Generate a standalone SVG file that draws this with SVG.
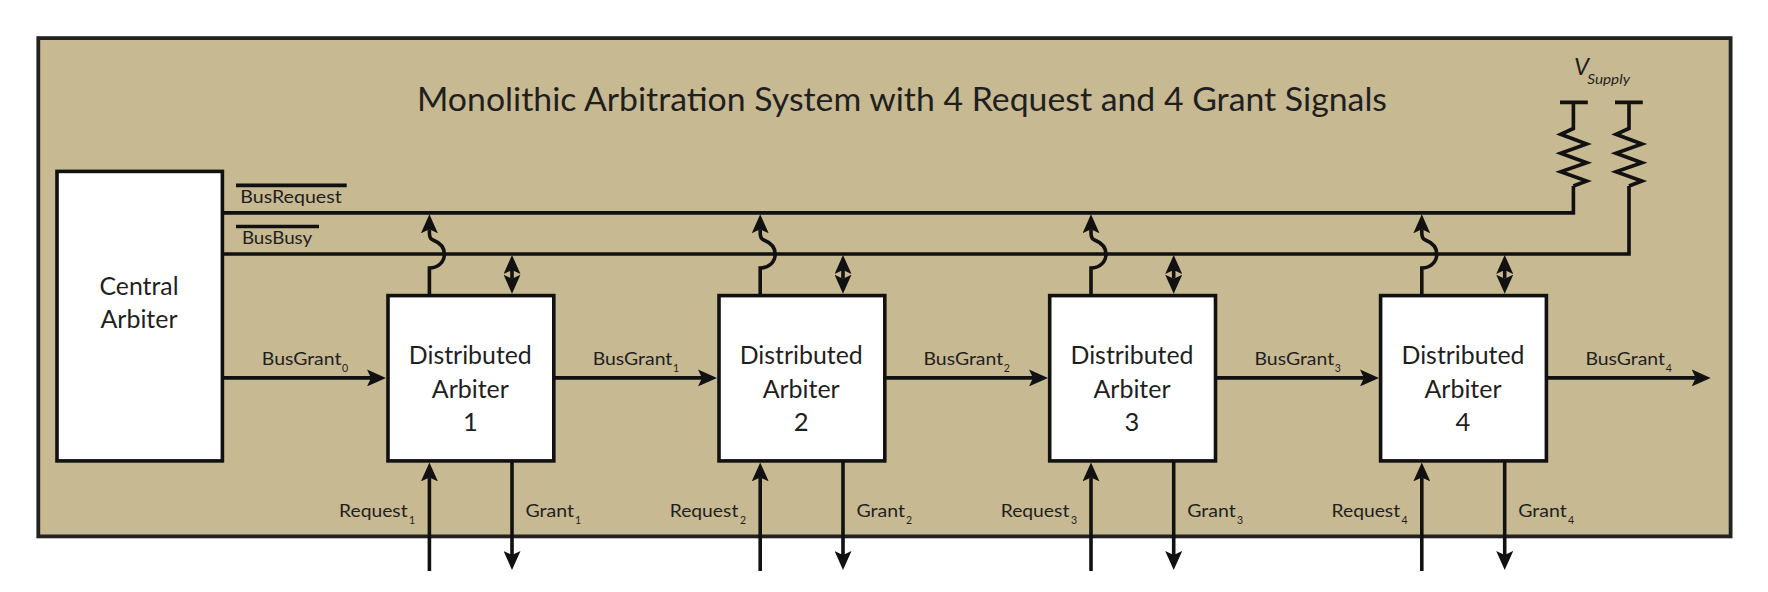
<svg xmlns="http://www.w3.org/2000/svg" width="1768" height="592" viewBox="0 0 1768 592">
<style>
text{font-family:Lato,"Liberation Sans",sans-serif;fill:#1f1f1f}
.t{font-size:33.5px}
.n{font-size:25.5px;text-anchor:middle}
.l{font-size:18px}
.s{font-size:10.5px}
.box{fill:#fff;stroke:#111;stroke-width:3.6}
.w{fill:none;stroke:#111;stroke-width:3.6;stroke-linejoin:miter}
.a{marker-end:url(#head)}
.b{marker-start:url(#head);marker-end:url(#head)}
</style>
<defs>
<marker id="head" markerUnits="userSpaceOnUse" markerWidth="19" markerHeight="17" viewBox="0 0 19 17" refX="4" refY="8.5" orient="auto-start-reverse"><path d="M0 0L19 8.5L0 17L4 8.5Z" fill="#111"/></marker>
</defs>
<g id="system">
<rect x="38.3" y="38.1" width="1692.3" height="498.3" fill="#c7b991" stroke="#222" stroke-width="3.8"/>
<text class="t" x="417" y="111.4" textLength="970" lengthAdjust="spacingAndGlyphs">Monolithic Arbitration System with 4 Request and 4 Grant Signals</text>
</g>
<g id="connectors">
<path class="w" d="M222 212.9H1573.4V186"/>
<path class="w" d="M222 254H1629V186"/>
<path class="w" d="M1560 102.4H1587.8M1573.4 102.4V128.5L1560.7 134.3L1586.7 144L1560.7 153.3L1586.7 162.7L1560.7 171.7L1586.7 181L1573.4 186"/>
<path class="w" d="M1615 102.4H1642.8M1629 102.4V128.5L1616 134.3L1642 144L1616 153.3L1642 162.7L1616 171.7L1642 181L1629 186"/>
<g id="bus-grants">
<path class="w a" d="M222 377.9H371"/>
<path class="w a" d="M553.8 377.9H702"/>
<path class="w a" d="M884.7 377.9H1033"/>
<path class="w a" d="M1215.5 377.9H1364"/>
<path class="w a" d="M1546.5 377.9H1695.7"/>
</g>
<g id="bus-request-taps">
<path class="w a" id="tap1" d="M429.4 295V268C438 268 444.4 262 444.4 254C444.4 246 438 242 433 240C430 239 429.4 237 429.4 233V229.3"/>
<path class="w a" id="tap2" d="M760.2 295V268C768.8 268 775.2 262 775.2 254C775.2 246 768.8 242 763.8 240C760.8 239 760.2 237 760.2 233V229.3"/>
<path class="w a" id="tap3" d="M1091 295V268C1099.6 268 1106 262 1106 254C1106 246 1099.6 242 1094.6 240C1091.6 239 1091 237 1091 233V229.3"/>
<path class="w a" id="tap4" d="M1421.8 295V268C1430.4 268 1436.8 262 1436.8 254C1436.8 246 1430.4 242 1425.4 240C1422.4 239 1421.8 237 1421.8 233V229.3"/>
</g>
<g id="bus-busy-taps">
<path class="w b" d="M512 270V278.7"/>
<path class="w b" d="M843 270V278.7"/>
<path class="w b" d="M1173.7 270V278.7"/>
<path class="w b" d="M1504.7 270V278.7"/>
</g>
<g id="requests">
<path class="w a" d="M429.4 571V477.4"/>
<path class="w a" d="M760.2 571V477.4"/>
<path class="w a" d="M1091 571V477.4"/>
<path class="w a" d="M1421.8 571V477.4"/>
</g>
<g id="grants">
<path class="w a" d="M512 461V555"/>
<path class="w a" d="M843 461V555"/>
<path class="w a" d="M1173.7 461V555"/>
<path class="w a" d="M1504.7 461V555"/>
</g>
<g id="labels">
<path class="w" d="M236 185.4H346.7M236 226.5H319"/>
<text class="l" x="240.3" y="203.1" textLength="101.4" lengthAdjust="spacingAndGlyphs">BusRequest</text>
<text class="l" x="241.9" y="243.5" textLength="70.4" lengthAdjust="spacingAndGlyphs">BusBusy</text>
<text class="l" x="261.8" y="365" textLength="79.6" lengthAdjust="spacingAndGlyphs">BusGrant</text><text class="s" x="342" y="371.8">0</text>
<text class="l" x="592.7" y="365" textLength="79.6" lengthAdjust="spacingAndGlyphs">BusGrant</text><text class="s" x="673" y="371.8">1</text>
<text class="l" x="923.5" y="365" textLength="79.6" lengthAdjust="spacingAndGlyphs">BusGrant</text><text class="s" x="1003.8" y="371.8">2</text>
<text class="l" x="1254.5" y="365" textLength="79.6" lengthAdjust="spacingAndGlyphs">BusGrant</text><text class="s" x="1334.8" y="371.8">3</text>
<text class="l" x="1585.4" y="365" textLength="79.6" lengthAdjust="spacingAndGlyphs">BusGrant</text><text class="s" x="1665.7" y="371.8">4</text>
<text class="l" x="339" y="517.2" textLength="68.6" lengthAdjust="spacingAndGlyphs">Request</text><text class="s" x="409" y="523.6">1</text>
<text class="l" x="669.7" y="517.2" textLength="68.6" lengthAdjust="spacingAndGlyphs">Request</text><text class="s" x="740" y="523.6">2</text>
<text class="l" x="1000.7" y="517.2" textLength="68.6" lengthAdjust="spacingAndGlyphs">Request</text><text class="s" x="1071" y="523.6">3</text>
<text class="l" x="1331.5" y="517.2" textLength="68.6" lengthAdjust="spacingAndGlyphs">Request</text><text class="s" x="1401.6" y="523.6">4</text>
<text class="l" x="525.5" y="517.2" textLength="48.5" lengthAdjust="spacingAndGlyphs">Grant</text><text class="s" x="575" y="523.6">1</text>
<text class="l" x="856.4" y="517.2" textLength="48.5" lengthAdjust="spacingAndGlyphs">Grant</text><text class="s" x="906" y="523.6">2</text>
<text class="l" x="1187.2" y="517.2" textLength="48.5" lengthAdjust="spacingAndGlyphs">Grant</text><text class="s" x="1237" y="523.6">3</text>
<text class="l" x="1518.2" y="517.2" textLength="48.5" lengthAdjust="spacingAndGlyphs">Grant</text><text class="s" x="1568" y="523.6">4</text>
<text x="1574" y="75" font-size="24" font-style="italic">V</text>
<text x="1587.3" y="84.3" font-size="14" font-style="italic" textLength="42.7" lengthAdjust="spacingAndGlyphs">Supply</text>
</g>
</g>
<g id="central-arbiter">
<rect class="box" x="57" y="171.4" width="165.4" height="289.5"/>
<text class="n" x="139" y="295.2" textLength="79" lengthAdjust="spacingAndGlyphs">Central</text>
<text class="n" x="139" y="328.4" textLength="77" lengthAdjust="spacingAndGlyphs">Arbiter</text>
</g>
<g id="arbiter-1">
<rect class="box" x="388" y="295.6" width="165.8" height="165.3"/>
<text class="n" x="470.3" y="364.3" textLength="123" lengthAdjust="spacingAndGlyphs">Distributed</text>
<text class="n" x="470.3" y="397.5" textLength="77" lengthAdjust="spacingAndGlyphs">Arbiter</text>
<text class="n" x="470.3" y="430.7">1</text>
</g>
<g id="arbiter-2">
<rect class="box" x="719" y="295.6" width="165.8" height="165.3"/>
<text class="n" x="801.2" y="364.3" textLength="123" lengthAdjust="spacingAndGlyphs">Distributed</text>
<text class="n" x="801.2" y="397.5" textLength="77" lengthAdjust="spacingAndGlyphs">Arbiter</text>
<text class="n" x="801.2" y="430.7">2</text>
</g>
<g id="arbiter-3">
<rect class="box" x="1049.7" y="295.6" width="165.8" height="165.3"/>
<text class="n" x="1132" y="364.3" textLength="123" lengthAdjust="spacingAndGlyphs">Distributed</text>
<text class="n" x="1132" y="397.5" textLength="77" lengthAdjust="spacingAndGlyphs">Arbiter</text>
<text class="n" x="1132" y="430.7">3</text>
</g>
<g id="arbiter-4">
<rect class="box" x="1380.6" y="295.6" width="165.8" height="165.3"/>
<text class="n" x="1463" y="364.3" textLength="123" lengthAdjust="spacingAndGlyphs">Distributed</text>
<text class="n" x="1463" y="397.5" textLength="77" lengthAdjust="spacingAndGlyphs">Arbiter</text>
<text class="n" x="1463" y="430.7">4</text>
</g>
</svg>
